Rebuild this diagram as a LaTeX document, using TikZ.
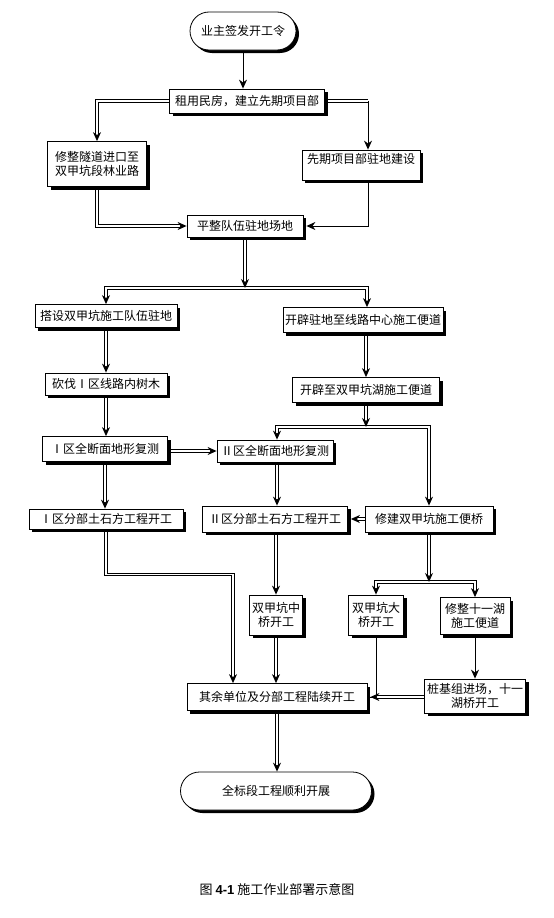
\documentclass[tikz,border=0pt]{standalone}
\usepackage{fontspec}
\setmainfont{Noto Sans CJK SC}
\newfontfamily\numfont{Liberation Sans}
\usetikzlibrary{arrows.meta, positioning, shapes.misc, shadows, backgrounds}

\begin{document}
\begin{tikzpicture}[x=1pt, y=-1pt,
    box/.style={rectangle, draw, fill=white, line width=0.8pt, inner sep=1pt, align=center, font=\fontsize{12}{14}\selectfont, drop shadow={shadow xshift=3pt, shadow yshift=-3pt, fill=black, opacity=1}},
    term/.style={box, rounded rectangle},
    dline/.style={double, double distance=1.8pt, line width=0.9pt, -{Stealth[length=9pt, width=8pt]}},
    dbar/.style={double, double distance=1.8pt, line width=0.9pt},
    sline/.style={line width=0.9pt, -{Stealth[length=9pt, width=8pt]}},
    sbar/.style={line width=0.9pt}
]
\useasboundingbox (0,0) rectangle (554,918);

% Start and preparation
\node[term, minimum width=108pt, minimum height=38pt] (order) at (243,31) {业主签发开工令};
\node[box, minimum width=155pt, minimum height=24pt] (rent) at (247,101) {租用民房，建立先期项目部};
\node[box, minimum width=99pt, minimum height=45pt] (tunnel) at (97,164) {修整隧道进口至\\双甲坑段林业路};
\node[box, minimum width=118pt, minimum height=30pt, text depth=14pt] (camp) at (361,165) {先期项目部驻地建设};
\node[box, minimum width=116pt, minimum height=22pt] (level) at (245,226) {平整队伍驻地场地};

% Two branches
\node[box, minimum width=142pt, minimum height=23pt] (build) at (106,316) {搭设双甲坑施工队伍驻地};
\node[box, minimum width=160pt, minimum height=25pt] (road1) at (363,320) {开辟驻地至线路中心施工便道};
\node[box, minimum width=122pt, minimum height=22pt] (cut) at (106,384) {砍伐Ⅰ区线路内树木};
\node[box, minimum width=147pt, minimum height=25pt] (road2) at (366,390) {开辟至双甲坑湖施工便道};
\node[box, minimum width=125pt, minimum height=25pt] (surveyA) at (105,449) {Ⅰ区全断面地形复测};
\node[box, minimum width=116pt, minimum height=22pt] (surveyB) at (275,451) {Ⅱ区全断面地形复测};
\node[box, minimum width=154pt, minimum height=20pt] (earthA) at (106,519) {Ⅰ区分部土石方工程开工};
\node[box, minimum width=145pt, minimum height=26pt] (earthB) at (275,519) {Ⅱ区分部土石方工程开工};
\node[box, minimum width=128pt, minimum height=26pt] (bridge) at (429,519) {修建双甲坑施工便桥};

% Bridges
\node[box, minimum width=53pt, minimum height=40pt] (midbr) at (276,615) {双甲坑中\\桥开工};
\node[box, minimum width=55pt, minimum height=40pt] (bigbr) at (376,615) {双甲坑大\\桥开工};
\node[box, minimum width=70pt, minimum height=37pt] (lake) at (475,616) {修整十一湖\\施工便道};
\node[box, minimum width=180pt, minimum height=27pt] (rest) at (277,697) {其余单位及分部工程陆续开工};
\node[box, minimum width=101pt, minimum height=34pt] (pile) at (475,696) {桩基组进场，十一\\湖桥开工};
\node[term, minimum width=193pt, minimum height=38pt] (finish) at (276,791) {全标段工程顺利开展};

% Caption
\node[font=\fontsize{13}{15}\selectfont] (caption) at (277,889) {图 {\numfont\bfseries 4-1} 施工作业部署示意图};

\begin{scope}[on background layer]
% Connectors, top part
\draw[sline] (order.south) -- (order.south |- rent.north);
\coordinate (rentR) at (368,101);
\draw[dline] (rent.west) -| (tunnel.north);
\draw[dbar] (rent.east) -- (rentR);
\draw[sline] (rentR) -- (rentR |- camp.north);
\draw[dline] (tunnel.south) |- (level.west);
\draw[sline] (camp.south -| rentR) |- ([xshift=3pt]level.east);

% Fan out below the camp site
\coordinate (fanA) at (245,288);
\draw[dline] (fanA) -| (build.north);
\draw[dline] (fanA) -| ([xshift=4pt]road1.north);
\draw[dline] (level.south) -- (fanA);
\draw[dline] (build) -- (cut);
\draw[dline] (road2.north |- road1.south) -- (road2.north);
\draw[dline] (cut.south) -- (cut.south |- surveyA.north);
\draw[dline] (surveyB.west -| surveyA.east) -- (surveyB.west);

% Fan out below the lake road
\coordinate (fanB) at (366,427);
\draw[dline] (fanB) -| ([xshift=2pt]surveyB.north);
\draw[dline] (fanB) -| (bridge.north);
\draw[dline] (road2.south) -- (fanB);
\draw[dline] (surveyA.south) -- (surveyA.south |- earthA.north);
\draw[dline] ([xshift=2pt]surveyB.south) -- ([xshift=2pt]earthB.north);
\draw[dline] (bridge.west) -- ([xshift=3pt]earthB.east);

% Fan out below the temporary bridge
\coordinate (fanC) at (429,582);
\draw[dline] (fanC) -| (bigbr.north);
\draw[dline] (fanC) -| (lake.north);
\draw[dline] (bridge.south) -- (fanC);

% Towards the remaining works
\draw[dline] (earthA.south) -- ++(0,45) -| ([xshift=-44pt]rest.north);
\draw[dline] (earthB.south -| midbr.north) -- (midbr.north);
\draw[dline] (midbr.south) -- (midbr.south |- rest.north);
\draw[sbar] (bigbr.south) |- (rest.east);
\draw[dline] (rest.east -| pile.west) -- ([xshift=3pt]rest.east);
\draw[sline] (lake) -- (pile);
\draw[dline] (rest.south) -- (rest.south |- finish.north);
\end{scope}
\end{tikzpicture}
\end{document}
